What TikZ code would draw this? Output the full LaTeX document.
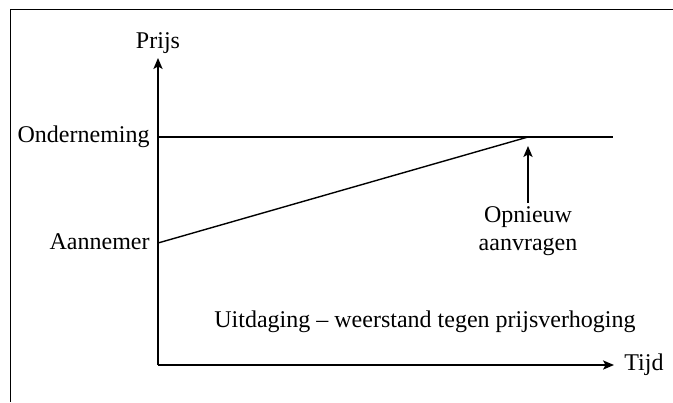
\documentclass[tikz,border=0pt]{standalone}
\usepackage{fontspec}
\setmainfont{Liberation Serif}
\usetikzlibrary{arrows.meta}
\begin{document}
\begin{tikzpicture}[x=0.5pt,y=-0.5pt,
  line/.style={draw=black,line width=0.7pt},
  arr/.style={line,-{Stealth[length=5.5pt,width=4.6pt,inset=1.3pt]}},
  lbl/.style={font=\fontsize{12}{14}\selectfont,inner sep=0pt}]
\useasboundingbox (0,0) rectangle (673,402);
\draw[line width=0.9pt] (673,9.5) -- (10.5,9.5) -- (10.5,402);
\coordinate (O) at (158,365);
\coordinate (ytop) at (158,58);
\coordinate (xend) at (614,365);
\node[lbl] (prijs) at (158,43) {Prijs};
\node[lbl,anchor=west] (tijd) at (624,365) {Tijd};
\draw[arr] (O) -- (ytop);
\draw[arr] (O) -- (xend);
\node[lbl,anchor=east] (ond) at (150,137) {Onderneming};
\node[lbl,anchor=east] (aan) at (150,242) {Aannemer};
\coordinate (ol) at (158,137);
\coordinate (or) at (613,137);
\coordinate (al) at (158,243);
\coordinate (meet) at (528,137);
\coordinate (tip) at (528,146);
\draw[line] (ol) -- (or);
\draw[line] (al) -- (meet);
\node[lbl,align=center] (opn) at (528,231) {Opnieuw\\aanvragen};
\coordinate (astart) at (528,203);
\draw[arr] (astart) -- (tip);
\node[lbl] (uit) at (425,322) {Uitdaging – weerstand tegen prijsverhoging};
\end{tikzpicture}
\end{document}
